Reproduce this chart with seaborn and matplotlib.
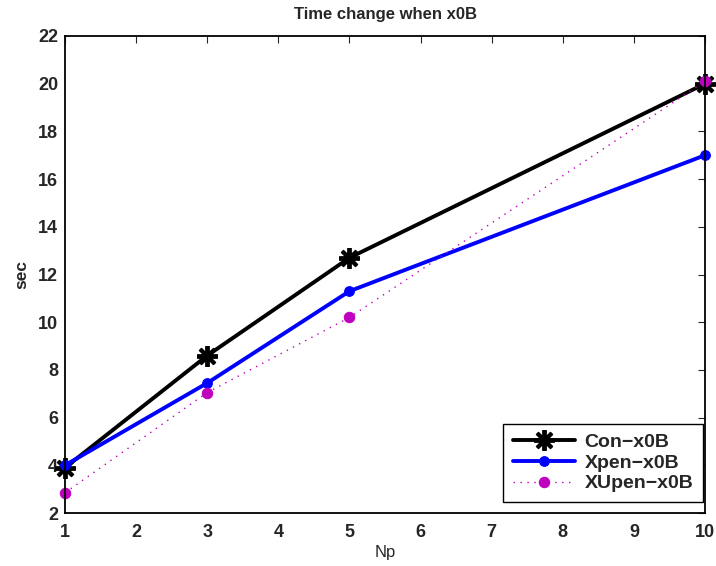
import matplotlib
matplotlib.use("Agg")
import matplotlib.pyplot as plt
import seaborn as sns
import pandas as pd

np_vals = [1, 3, 5, 10]
con_x0b = [3.9, 8.6, 12.7, 20.0]
xpen_x0b = [4.0, 7.45, 11.3, 17.0]
xupen_x0b = [2.85, 7.05, 10.2, 20.1]
xticks = list(range(1, 11))
yticks = list(range(2, 23, 2))

sns.set_style("white")
plt.rcParams['font.family'] = ['Liberation Sans', 'DejaVu Sans']

fig = plt.figure(figsize=(7.16, 5.66), dpi=100)
ax = fig.add_axes([65 / 716, (566 - 513) / 566, 640 / 716, 477 / 566])

sns.lineplot(x=np_vals, y=con_x0b, ax=ax, color='black', linewidth=2.8,
             marker=(8, 2, 0), markersize=15, markeredgewidth=2.8,
             markeredgecolor='black', label='Con\u2212x0B', clip_on=False)
sns.lineplot(x=np_vals, y=xpen_x0b, ax=ax, color='blue', linewidth=2.8,
             marker='o', markersize=7, markeredgecolor='blue',
             label='Xpen\u2212x0B', clip_on=False)
sns.lineplot(x=np_vals, y=xupen_x0b, ax=ax, color='#bf00bf', linewidth=1.0,
             linestyle=(0, (1, 4)), marker='o', markersize=7.5,
             markeredgecolor='#bf00bf', label='XUpen\u2212x0B', clip_on=False)

ax.set_xlim(1, 10)
ax.set_ylim(2, 22)
ax.set_xticks(xticks)
ax.set_yticks(yticks)
ax.tick_params(axis='both', direction='in', length=5, width=0.8, top=True,
               right=True, labelsize=13)
ax.tick_params(axis='x', pad=8)
ax.tick_params(axis='y', pad=5)
for lab in ax.get_xticklabels() + ax.get_yticklabels():
    lab.set_fontweight('bold')
for sp in ax.spines.values():
    sp.set_color('black')
    sp.set_linewidth(1.3)

ax.set_xlabel('Np', fontsize=12, labelpad=3)
ax.set_ylabel('sec', fontsize=12.5, fontweight='bold', labelpad=6)
ax.set_title('Time change when x0B', fontsize=12, fontweight='bold', pad=12)

leg = ax.legend(loc='lower right', bbox_to_anchor=(0.997, 0.023),
                borderaxespad=0, frameon=True, fancybox=False,
                prop={'weight': 'bold', 'size': 14}, handlelength=3.2,
                labelspacing=0.15, handletextpad=0.5, borderpad=0.5)
leg.get_frame().set_edgecolor('black')
leg.get_frame().set_linewidth(1.0)
leg.get_frame().set_alpha(1)

fig.savefig('out.png', dpi=100)
